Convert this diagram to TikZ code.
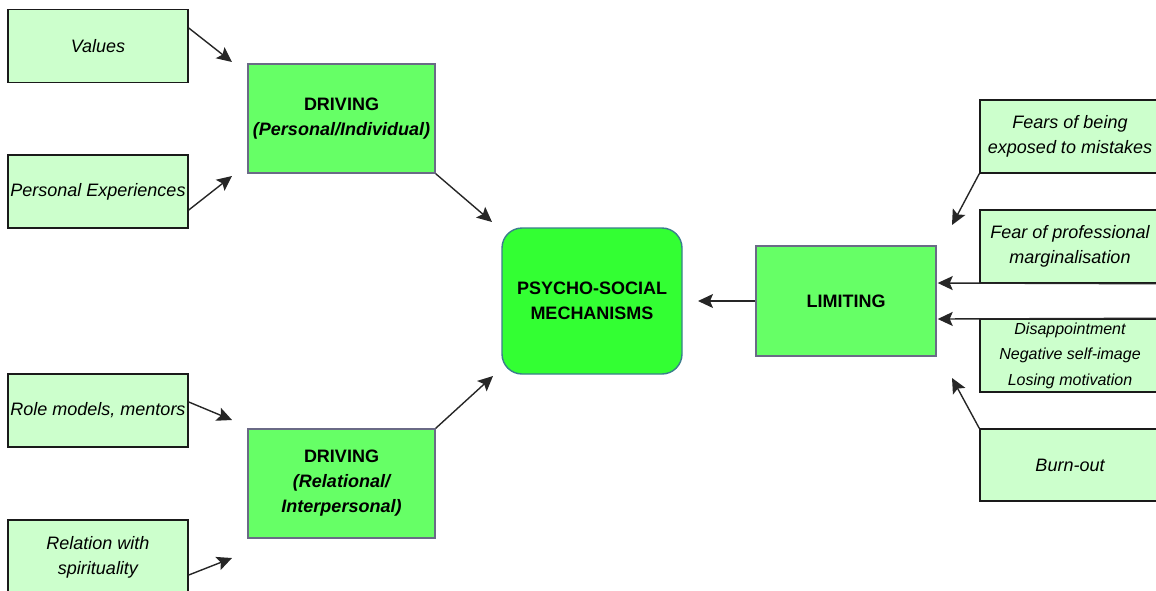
\documentclass[tikz,border=0pt]{standalone}
\usepackage{fontspec}
\setmainfont{Liberation Sans}
\usetikzlibrary{arrows.meta,calc}
\definecolor{leaf}{HTML}{CCFFCC}
\definecolor{drive}{HTML}{66FF66}
\definecolor{core}{HTML}{33FF33}
\definecolor{driveedge}{HTML}{6A6A86}
\definecolor{coreedge}{HTML}{3A7E8C}
\definecolor{leafedge}{HTML}{1A1A1A}
\tikzset{
  leafbox/.style={draw=leafedge, line width=1.5pt, fill=leaf, minimum width=180pt,
    minimum height=73pt, align=center, inner sep=0pt,
    font=\fontsize{18pt}{25pt}\selectfont\itshape},
  drivebox/.style={draw=driveedge, line width=1.4pt, fill=drive, minimum width=187pt,
    minimum height=109pt, align=center, inner sep=0pt,
    font=\fontsize{18pt}{25pt}\selectfont\bfseries},
  corebox/.style={draw=coreedge, line width=1.4pt, fill=core, rounded corners=20pt,
    minimum width=180pt, minimum height=146pt, align=center, inner sep=0pt,
    font=\fontsize{18pt}{25pt}\selectfont\bfseries},
  arr/.style={draw=black!85, line width=1.4pt, -{Stealth[length=15pt,width=14pt,inset=3pt]}}
}
\begin{document}
\begin{tikzpicture}[x=1pt,y=-1pt]
\useasboundingbox (0,0) rectangle (1156,590);
% sources on the left
\node[leafbox] (values) at (98,46) {Values};
\node[leafbox] (persexp) at (98,191.5) {Personal Experiences};
\node[leafbox] (rolemod) at (98,410.5) {Role models, mentors};
\node[leafbox, minimum height=75pt] (relspir) at (98,557.5) {Relation with\\spirituality};
% driving factors
\node[drivebox] (drvpers) at (341.5,118.5) {DRIVING\\\itshape(Personal/Individual)};
\node[drivebox] (drvrel) at (341.5,483.5) {DRIVING\\\itshape(Relational/\\\itshape Interpersonal)};
% centre
\node[corebox] (psm) at (592,301) {PSYCHO-SOCIAL\\MECHANISMS};
% limiting factor
\node[drivebox, minimum width=180pt, minimum height=110pt] (lim) at (846,301) {LIMITING};
% sources on the right
\node[leafbox] (fears) at (1070,136.5) {Fears of being\\exposed to mistakes};
\node[leafbox] (prof) at (1070,246.5) {Fear of professional\\marginalisation};
\node[leafbox, font=\fontsize{16pt}{25.5pt}\selectfont\itshape] (disap) at (1070,355.5) {Disappointment\\Negative self-image\\Losing motivation};
\node[leafbox, minimum height=72pt] (burn) at (1070,465) {Burn-out};
% free arrow ends
\coordinate (eval) at (232,62);
\coordinate (eexp) at (232,176);
\coordinate (edp) at (492,222);
\coordinate (erole) at (232,420);
\coordinate (espir) at (232,558);
\coordinate (edr) at (493,376);
\coordinate (elim) at (698,301);
\coordinate (efear) at (952,225);
\coordinate (eburn) at (952,378);
% connectors
\draw[arr] ([yshift=18pt]values.east) -- (eval);
\draw[arr] ([yshift=-18.5pt]persexp.east) -- (eexp);
\draw[arr] (drvpers.south east) -- (edp);
\draw[arr] ([yshift=8.5pt]rolemod.east) -- (erole);
\draw[arr] ([yshift=-17.5pt]relspir.east) -- (espir);
\draw[arr] (drvrel.north east) -- (edr);
\draw[arr] (lim.west) -- (elim);
\draw[arr] (fears.south west) -- (efear);
\draw[arr] (prof.south east) -- ([yshift=18pt,xshift=1pt]lim.east);
\draw[arr] (disap.north east) -- ([yshift=-18pt,xshift=1pt]lim.east);
\draw[arr] (burn.north west) -- (eburn);
\end{tikzpicture}
\end{document}
